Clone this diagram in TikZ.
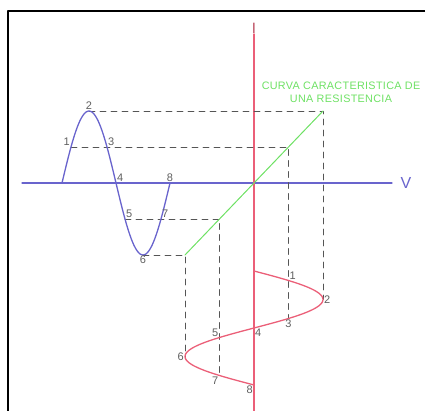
\documentclass[tikz,border=0pt]{standalone}
\usepackage{fontspec}
\setmainfont{Liberation Sans}
\newfontfamily\notefont[LetterSpace=3]{Liberation Sans}
\usetikzlibrary{calc}

\begin{document}
\begin{tikzpicture}[x=1pt,y=-1pt,line cap=round,line join=round]
  % ----- styles & colors -----
  \definecolor{vblue}{RGB}{105,100,205}
  \definecolor{ired}{RGB}{235,95,120}
  \definecolor{rgreen}{RGB}{110,225,100}
  \definecolor{dashgray}{RGB}{85,85,85}
  \definecolor{numgray}{RGB}{95,95,95}
  \tikzset{
    frame/.style={draw=black,line width=2pt,line cap=butt},
    vaxis/.style={draw=vblue,line width=1.2pt},
    iaxis/.style={draw=ired,line width=1.4pt},
    vwave/.style={draw=vblue,line width=1.3pt},
    iwave/.style={draw=ired,line width=1.3pt},
    rline/.style={draw=rgreen,line width=1pt},
    proj/.style={draw=dashgray,line width=0.9pt,dash pattern=on 6pt off 5pt},
    num/.style={text=numgray,font=\fontsize{11}{12}\selectfont,inner sep=1pt}
  }

  \useasboundingbox (0,0) rectangle (426,411);

  % ----- geometry -----
  \def\Vo{62}    % start of the voltage wave
  \def\Ty{183}   % V axis
  \def\Ix{254}   % I axis
  \def\Io{271}   % start of the current wave
  \def\Va{72}    % voltage amplitude
  \def\Ia{69}    % current amplitude
  \def\Tv{108}   % period of the voltage wave
  \def\Ti{114}   % period of the current wave

  % points on both waves (phase in degrees)
  \foreach \k/\p in {1/30,2/90,3/150,4/180,5/210,6/270,7/330,8/360}{
    \coordinate (b\k) at ({\Vo+\p/360*\Tv},{\Ty-\Va*sin(\p)});
    \coordinate (r\k) at ({\Ix+\Ia*sin(\p)},{\Io+\p/360*\Ti});
  }

  % points on the characteristic line
  \coordinate (g2) at ({\Ix+\Ia},{\Ty-\Va});
  \coordinate (g1) at ({\Ix+\Ia/2},{\Ty-\Va/2});
  \coordinate (g5) at ({\Ix-\Ia/2},{\Ty+\Va/2});
  \coordinate (g6) at ({\Ix-\Ia},{\Ty+\Va});

  % ----- frame -----
  \draw[frame] (425,11) -- (8,11) -- (8,411);

  % ----- axes -----
  \draw[vaxis] (22,\Ty) coordinate (vstart) -- (392,\Ty) coordinate (vend);
  \node[text=vblue,font=\fontsize{16}{16}\selectfont,right=5pt] (vlab) at (vend) {V};
  \draw[iaxis] (\Ix,411) coordinate (iend) -- (\Ix,34) coordinate (itop);
  \node[text=ired!80!black,font=\fontsize{15}{15}\selectfont,above,inner sep=0pt] (ilab) at (itop) {I};

  % ----- projections -----
  \draw[proj] (b2) -- (g2) -- (r2);
  \draw[proj] (b1) -- (g1) -- (r3);
  \draw[proj] (b5) -- (g5) -- (r7);
  \draw[proj] (b6) -- (g6) -- (r6);

  % characteristic of the resistor
  \draw[rline] (g6) -- (g2);
  \node[text=rgreen,font=\notefont\fontsize{10.8}{13}\selectfont,align=center] (curva) at (341,92)
    {CURVA CARACTERISTICA DE\\UNA RESISTENCIA};

  % ----- the two waves -----
  \draw[vwave] plot[domain=0:360,samples=73] ({\Vo+\x/360*\Tv},{\Ty-\Va*sin(\x)});
  \draw[iwave] plot[domain=0:360,samples=73] ({\Ix+\Ia*sin(\x)},{\Io+\x/360*\Ti});

  % ----- numbers -----
  \foreach \k/\pos in {1/above left,2/above,3/above right,4/above right,
                       5/above right,6/below,7/above right,8/above}{
    \node[num,\pos] (nb\k) at (b\k) {\k};
  }
  \foreach \k/\pos in {1/above right,2/right,3/below,4/below right,
                       5/above left,6/left,7/below left,8/below left}{
    \node[num,\pos] (nr\k) at (r\k) {\k};
  }

\end{tikzpicture}
\end{document}
